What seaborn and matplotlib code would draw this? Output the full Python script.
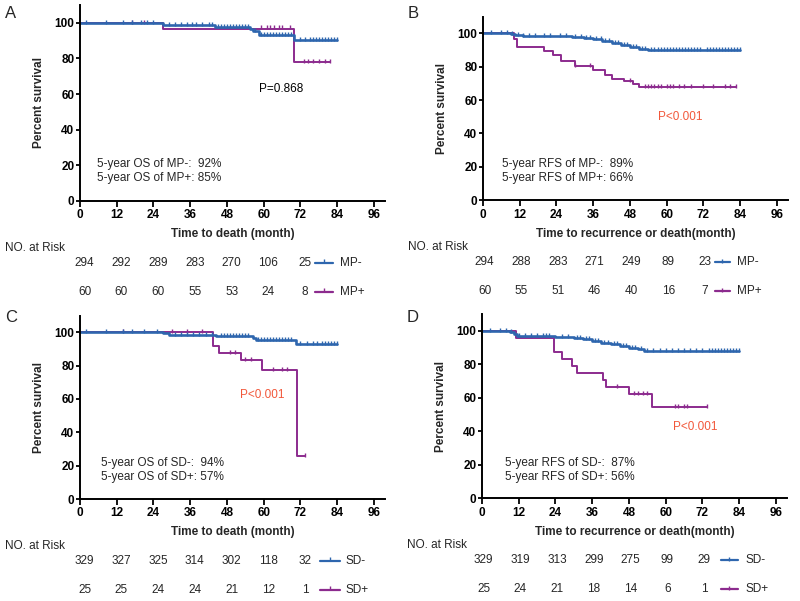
import numpy as np
import matplotlib
matplotlib.use("Agg")
import matplotlib.pyplot as plt
import matplotlib.transforms as mtransforms
import seaborn as sns

sns.set_theme(style="ticks")
plt.rcParams['font.family'] = ['Liberation Sans', 'DejaVu Sans']

BLUE = "#2E66AE"
PURPLE = "#8C2B8E"
RED = "#F2583B"

# ---------------- data ----------------
x_ticks = [0, 12, 24, 36, 48, 60, 72, 84, 96]
y_ticks = [0, 20, 40, 60, 80, 100]
risk_times = [0, 12, 24, 36, 48, 60, 72]

# Panel A: OS by MP
A_neg_t = [0, 27, 44, 55.5, 56.5, 58.5, 70]
A_neg_s = [100, 99, 97.6, 96.4, 95.2, 93.4, 90.3]
A_neg_end = 84
A_neg_cens = [2, 8.5, 14, 17, 20, 22, 24, 29, 31, 33, 35, 36.5, 38, 40, 42, 43, 45, 46, 47,
              48, 49, 50, 51, 52, 53, 54, 55, 57, 59, 60, 61, 62, 63, 64, 65, 66, 67, 68, 69,
              72, 73.5, 75, 76, 77, 78, 79, 80, 81, 82, 83, 84]
A_pos_t = [0, 27, 70]
A_pos_s = [100, 96.8, 77.8]
A_pos_end = 81.5
A_pos_cens = [17, 21, 59, 61, 62, 63.5, 65, 66, 68.5, 73, 74.5, 76, 78, 80, 81.5]
A_risk_neg = [294, 292, 289, 283, 270, 106, 25]
A_risk_pos = [60, 60, 60, 55, 53, 24, 8]

# Panel B: RFS by MP
B_neg_t = [0, 9, 10.5, 13, 29, 33, 36, 39, 42, 45, 48, 51, 54]
B_neg_s = [100, 99.5, 99, 98.2, 97.6, 97, 96.3, 95.2, 94.2, 93, 92, 90.8, 89.8]
B_neg_end = 84
B_neg_cens = [2.5, 6, 8, 9.5, 11.5, 13, 15, 17, 20, 22, 25, 27, 30, 32, 33.5, 35, 37, 38.5,
              40, 41, 43, 44, 46, 47, 49, 50, 52, 53, 55, 56, 57, 58, 59, 60, 61, 62, 63, 64,
              65, 66, 67, 68, 69, 70, 71, 73, 74, 75, 76, 77, 78, 79, 80, 81, 82, 83, 84]
B_pos_t = [0, 10, 11, 20, 23, 25.5, 30, 36, 40, 42, 46, 49, 51]
B_pos_s = [100, 96.7, 91.7, 89.5, 87, 83.5, 80.5, 78, 75, 72.8, 71.3, 69.6, 67.8]
B_pos_end = 82.7
B_pos_cens = [30, 35, 48, 53, 54, 55, 56, 57, 58, 60, 61, 62, 64, 65.5, 68, 72, 75, 79, 80.5, 82.7]
B_risk_neg = [294, 288, 283, 271, 249, 89, 23]
B_risk_pos = [60, 55, 51, 46, 40, 16, 7]

# Panel C: OS by SD
C_neg_t = [0, 27, 29, 44.5, 56.5, 57.5, 70.5]
C_neg_s = [100, 99.3, 98.6, 97.5, 96.4, 95.4, 93]
C_neg_end = 84
C_neg_cens = [2, 8.5, 14, 17, 21, 25, 31, 33, 35, 37, 39, 41, 43, 46, 47, 48, 49, 50, 51, 52,
              53, 54, 55, 58, 59, 60, 61, 62, 63, 64, 65, 66, 67, 68, 69, 72, 74, 76, 77.5, 79,
              80, 81, 82, 83, 84]
C_pos_t = [0, 43.5, 45.5, 52.5, 59.5, 71]
C_pos_s = [100, 91.7, 87.5, 83.3, 77.3, 25.8]
C_pos_end = 73.5
C_pos_cens = [14, 30, 35, 40, 49, 50.5, 54, 56, 63, 66, 67.5, 73.5]
C_risk_neg = [329, 327, 325, 314, 302, 118, 32]
C_risk_pos = [25, 25, 24, 24, 21, 12, 1]

# Panel D: RFS by SD
D_neg_t = [0, 9, 10.5, 11.5, 24, 30, 33, 36, 39, 42, 45, 48, 51, 53]
D_neg_s = [100, 99.4, 98.2, 97, 96.5, 95.8, 95, 93.8, 92.8, 91.8, 91, 90, 89, 88.2]
D_neg_end = 84
D_neg_cens = [2.5, 6, 8, 9.5, 12, 14, 16, 18, 20, 21, 22, 26, 28, 31, 32, 34, 35, 37, 38, 40,
              41, 43, 44, 46, 47, 49, 50, 52, 54, 56, 58, 60, 62, 64, 66, 68, 70, 72, 74, 75,
              76, 77, 78, 79, 80, 81, 82, 83, 84]
D_pos_t = [0, 11, 23.5, 26, 29.5, 31, 39.5, 40.5, 48, 55.5]
D_pos_s = [100, 95.8, 87.5, 83.3, 79.2, 75, 70.8, 66.7, 62.5, 54.7]
D_pos_end = 73.5
D_pos_cens = [44, 49.5, 51, 52.5, 54, 63, 64, 66, 67, 73.5]
D_risk_neg = [329, 319, 313, 299, 275, 99, 29]
D_risk_pos = [25, 24, 21, 18, 14, 6, 1]

panels = [
    dict(letter="A", left=80, bottom=201, top=5, letter_y=14, xlabel="Time to death (month)",
         neg=(A_neg_t, A_neg_s, A_neg_end, A_neg_cens), pos=(A_pos_t, A_pos_s, A_pos_end, A_pos_cens),
         risk=(A_risk_neg, A_risk_pos), names=("MP-", "MP+"),
         notes=("5-year OS of MP-:  92%", "5-year OS of MP+: 85%"), note_x=5.5, note_y=(20.8, 12.8),
         ptxt="P=0.868", pcol="black", pxy=(65.6, 62.8), roff=1.5, leg=(76.8, 82.7, 85.0)),
    dict(letter="B", left=483, bottom=200.3, top=16.6, letter_y=14, xlabel="Time to recurrence or death(month)",
         neg=(B_neg_t, B_neg_s, B_neg_end, B_neg_cens), pos=(B_pos_t, B_pos_s, B_pos_end, B_pos_cens),
         risk=(B_risk_neg, B_risk_pos), names=("MP-", "MP+"),
         notes=("5-year RFS of MP-:  89%", "5-year RFS of MP+: 66%"), note_x=6.1, note_y=(21.5, 13.3),
         ptxt="P<0.001", pcol=RED, pxy=(64.4, 50), roff=0.5, leg=(75.6, 80.8, 82.9)),
    dict(letter="C", left=80, bottom=499, top=315.6, letter_y=318, xlabel="Time to death (month)",
         neg=(C_neg_t, C_neg_s, C_neg_end, C_neg_cens), pos=(C_pos_t, C_pos_s, C_pos_end, C_pos_cens),
         risk=(C_risk_neg, C_risk_pos), names=("SD-", "SD+"),
         notes=("5-year OS of SD-:  94%", "5-year OS of SD+: 57%"), note_x=7.0, note_y=(21.4, 13.4),
         ptxt="P<0.001", pcol=RED, pxy=(59.6, 62.4), roff=1.5, leg=(78.4, 85.0, 86.6)),
    dict(letter="D", left=482, bottom=498.3, top=314, letter_y=318, xlabel="Time to recurrence or death(month)",
         neg=(D_neg_t, D_neg_s, D_neg_end, D_neg_cens), pos=(D_pos_t, D_pos_s, D_pos_end, D_pos_cens),
         risk=(D_risk_neg, D_risk_pos), names=("SD-", "SD+"),
         notes=("5-year RFS of SD-:  87%", "5-year RFS of SD+: 56%"), note_x=7.5, note_y=(21.0, 13.0),
         ptxt="P<0.001", pcol=RED, pxy=(69.6, 42.7), roff=0.5, leg=(78.0, 83.6, 86.1)),
]

W, H = 800, 601
fig = plt.figure(figsize=(8, 6.01), dpi=100)


def step_value(t, s, x):
    idx = np.searchsorted(np.asarray(t), np.asarray(x), side="right") - 1
    return np.asarray(s)[idx]


def draw_curve(ax, data, color, lw):
    t, s, end, cens = data
    tt = list(t) + [end]
    ss = list(s) + [s[-1]]
    sns.lineplot(x=tt, y=ss, ax=ax, color=color, lw=lw, drawstyle="steps-post",
                 estimator=None, sort=False, legend=False)
    ax.plot(cens, step_value(t, s, cens) + 0.6, ls="none", marker="|", ms=3, mew=1.0, color=color)


for p in panels:
    width = 305
    rect = [p["left"] / W, 1 - p["bottom"] / H, width / W, (p["bottom"] - p["top"]) / H]
    ax = fig.add_axes(rect)
    draw_curve(ax, p["pos"], PURPLE, 1.4)
    draw_curve(ax, p["neg"], BLUE, 1.9)
    ax.set_xlim(0, 99.6)
    ax.set_ylim(0, 110)
    ax.set_xticks(x_ticks)
    ax.set_yticks(y_ticks)
    ax.set_xticklabels([str(v) for v in x_ticks], fontsize=8.5, fontweight="bold")
    ax.set_yticklabels([str(v) for v in y_ticks], fontsize=8.5, fontweight="bold")
    ax.tick_params(axis="x", length=4, width=1.3, pad=2, colors="black")
    ax.tick_params(axis="y", length=3, width=1.3, pad=1, colors="black")
    for sp in ("top", "right"):
        ax.spines[sp].set_visible(False)
    for sp in ("left", "bottom"):
        ax.spines[sp].set_linewidth(1.4)
        ax.spines[sp].set_color("black")
    ax.set_xlabel(p["xlabel"], fontsize=8.5, fontweight="bold", labelpad=5)
    ax.set_ylabel("Percent survival", fontsize=8.5, fontweight="bold", labelpad=7)

    ax.text(p["note_x"], p["note_y"][0], p["notes"][0], fontsize=8.5, va="center", ha="left")
    ax.text(p["note_x"], p["note_y"][1], p["notes"][1], fontsize=8.5, va="center", ha="left")
    ax.text(p["pxy"][0], p["pxy"][1], p["ptxt"], fontsize=8.5, color=p["pcol"], va="center", ha="center")

    # panel letter
    fig.text((p["left"] - 75) / W, 1 - p["letter_y"] / H, p["letter"], fontsize=12,
             va="center", ha="left")

    # number at risk table
    base = p["bottom"]
    blend = mtransforms.blended_transform_factory(ax.transData, fig.transFigure)
    fig.text((p["left"] - 75) / W, 1 - (base + 47) / H, "NO. at Risk", fontsize=8.5, va="center", ha="left")
    rows_y = [base + 61.7, base + 90.7]
    colors = [BLUE, PURPLE]
    for r, (vals, yy, col, name) in enumerate(zip(p["risk"], rows_y, colors, p["names"])):
        yf = 1 - yy / H
        for tval, n in zip(risk_times, vals):
            ax.text(tval + p["roff"], yf, str(n), transform=blend, fontsize=8.5,
                    ha="center", va="center", clip_on=False)
        x0, x1, xl = p["leg"]
        ax.plot([x0, x1], [yf, yf], transform=blend, color=col, lw=1.6, clip_on=False)
        ax.plot([(x0 + x1) / 2], [yf + 0.002], transform=blend, color=col, marker="|", ms=3,
                mew=1.0, clip_on=False)
        ax.text(xl, yf, name, transform=blend, fontsize=8.5, ha="left", va="center", clip_on=False)

fig.savefig("out.png", dpi=100)
